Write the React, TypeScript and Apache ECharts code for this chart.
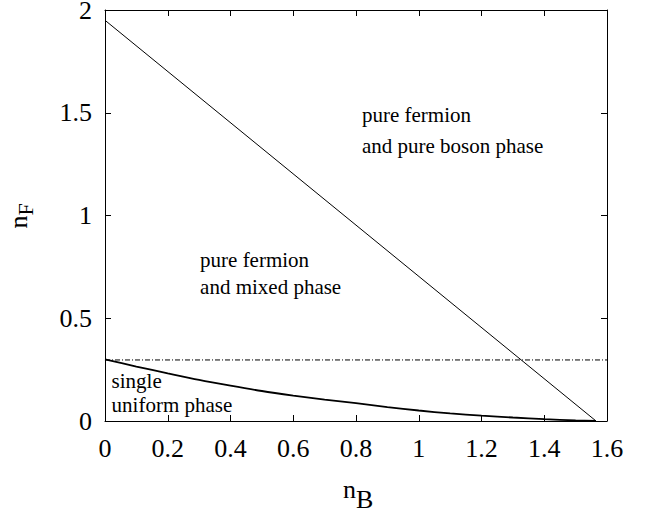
import React, { useEffect, useRef } from "react";
import * as echarts from "echarts";

const xTicks = [0, 0.2, 0.4, 0.6, 0.8, 1, 1.2, 1.4, 1.6];
const yTicks = [0, 0.5, 1, 1.5, 2];

// upper boundary (straight line)
const lineX = [0, 1.565];
const lineY = [1.95, 0];

// horizontal dash-dot line
const dashX = [0, 1.6];
const dashY = [0.297, 0.297];

// lower boundary curve
const curveX = [0, 0.1, 0.2, 0.3, 0.4, 0.5, 0.6, 0.7, 0.8, 0.9, 1.0, 1.1, 1.2, 1.3, 1.4, 1.5, 1.565];
const curveY = [0.3, 0.265, 0.232, 0.2, 0.172, 0.146, 0.124, 0.104, 0.087, 0.068, 0.051, 0.037, 0.026, 0.017, 0.009, 0.003, 0];

// annotations (data coords of text block top-left)
const annotX = [0.819, 0.303, 0.021];
const annotY = [1.564, 0.847, 0.253];
const annotText = ["pure fermion\nand pure boson phase", "pure fermion\nand mixed phase", "single\nuniform phase"];
const annotLineHeight = [31, 27, 23.7];

// axis titles: base letter + subscript
const xTitle = ["n", "B"];
const yTitle = ["n", "F"];

const FONT = "Liberation Serif";

export default function App() {
  const ref = useRef<HTMLDivElement>(null);
  useEffect(() => {
    if (!ref.current) return;
    const chart = echarts.init(ref.current, null, { renderer: "svg" });
    const axisCommon = {
      type: "value" as const,
      axisLine: { show: true, onZero: false, lineStyle: { color: "#000", width: 1 } },
      axisTick: { show: true, inside: true, length: 6, lineStyle: { color: "#000", width: 1 } },
      splitLine: { show: false },
    };
    chart.setOption({
      animation: false,
      grid: { left: 105, right: 38, top: 10, bottom: 94, outerBoundsMode: "none" },
      xAxis: [
        {
          ...axisCommon,
          position: "bottom",
          min: xTicks[0],
          max: xTicks[xTicks.length - 1],
          interval: 0.2,
          axisLabel: { fontFamily: FONT, fontSize: 26, color: "#000", margin: 14 },
        },
        {
          ...axisCommon,
          position: "top",
          min: xTicks[0],
          max: xTicks[xTicks.length - 1],
          interval: 0.2,
          axisLabel: { show: false },
        },
      ],
      yAxis: [
        {
          ...axisCommon,
          position: "left",
          min: yTicks[0],
          max: yTicks[yTicks.length - 1],
          interval: 0.5,
          axisLabel: { fontFamily: FONT, fontSize: 26, color: "#000", margin: 13 },
        },
        {
          ...axisCommon,
          position: "right",
          min: yTicks[0],
          max: yTicks[yTicks.length - 1],
          interval: 0.5,
          axisLabel: { show: false },
        },
      ],
      series: [
        {
          type: "line",
          data: lineX.map((x, i) => [x, lineY[i]]),
          showSymbol: false,
          lineStyle: { color: "#000", width: 1 },
          silent: true,
        },
        {
          type: "line",
          data: dashX.map((x, i) => [x, dashY[i]]),
          showSymbol: false,
          lineStyle: { color: "#000", width: 1, type: [5, 2, 1, 2] },
          silent: true,
        },
        {
          type: "line",
          data: curveX.map((x, i) => [x, curveY[i]]),
          showSymbol: false,
          smooth: 0.3,
          lineStyle: { color: "#000", width: 1.8 },
          silent: true,
        },
      ],
    });

    const graphic: any[] = annotX.map((x, i) => {
      const p = chart.convertToPixel({ gridIndex: 0 }, [x, annotY[i]]) as number[];
      return {
        type: "text",
        x: p[0],
        y: p[1],
        silent: true,
        style: {
          text: annotText[i],
          fontFamily: FONT,
          fontSize: 21,
          fill: "#000",
          lineHeight: annotLineHeight[i],
          align: "left",
          verticalAlign: "top",
        },
      };
    });

    // x-axis title below the middle of the x axis
    const xMid = chart.convertToPixel({ gridIndex: 0 }, [
      (xTicks[0] + xTicks[xTicks.length - 1]) / 2,
      yTicks[0],
    ]) as number[];
    graphic.push(
      {
        type: "text",
        x: xMid[0],
        y: xMid[1] + 68,
        silent: true,
        style: { text: xTitle[0], fontFamily: FONT, fontSize: 26, fill: "#000", align: "right", verticalAlign: "middle" },
      },
      {
        type: "text",
        x: xMid[0],
        y: xMid[1] + 78,
        silent: true,
        style: { text: xTitle[1], fontFamily: FONT, fontSize: 26, fill: "#000", align: "left", verticalAlign: "middle" },
      }
    );

    // y-axis title left of the middle of the y axis, rotated
    const yMid = chart.convertToPixel({ gridIndex: 0 }, [
      xTicks[0],
      (yTicks[0] + yTicks[yTicks.length - 1]) / 2,
    ]) as number[];
    graphic.push(
      {
        type: "text",
        x: yMid[0] - 87,
        y: yMid[1],
        rotation: Math.PI / 2,
        silent: true,
        style: { text: yTitle[0], fontFamily: FONT, fontSize: 26, fill: "#000", align: "right", verticalAlign: "middle" },
      },
      {
        type: "text",
        x: yMid[0] - 80,
        y: yMid[1],
        rotation: Math.PI / 2,
        silent: true,
        style: { text: yTitle[1], fontFamily: FONT, fontSize: 22, fill: "#000", align: "left", verticalAlign: "middle" },
      }
    );

    chart.setOption({ graphic });
    return () => chart.dispose();
  }, []);
  return (
    <div
      ref={ref}
      style={{ position: "fixed", left: 0, top: 0, width: 645, height: 515, background: "#fff" }}
    />
  );
}
